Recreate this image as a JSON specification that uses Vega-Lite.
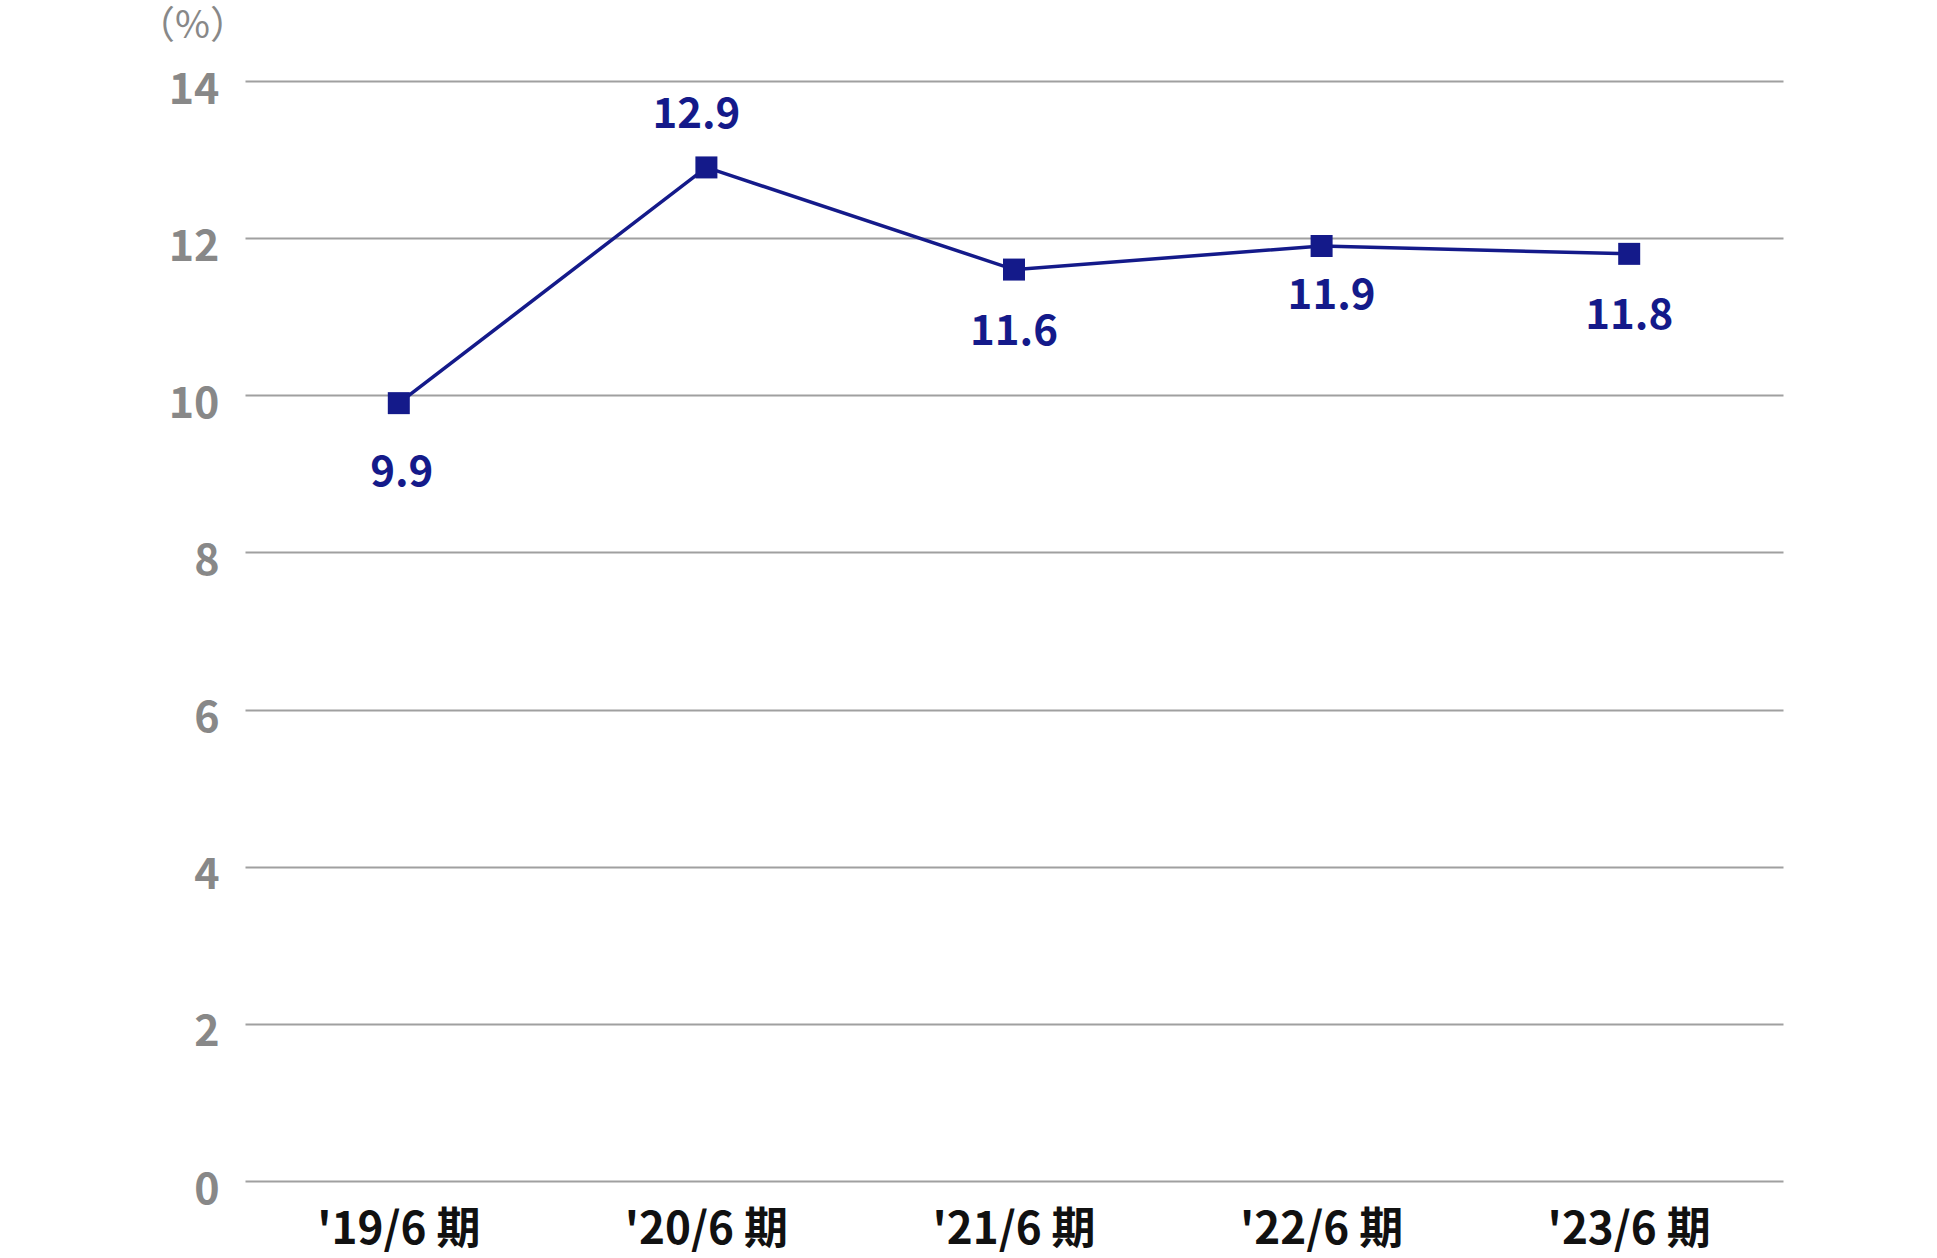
{
  "$schema": "https://vega.github.io/schema/vega-lite/v6.json",
  "width": 1538,
  "height": 1100,
  "autosize": {"type": "none"},
  "padding": {"left": 245, "top": 81, "right": 154, "bottom": 77},
  "background": "white",
  "config": {"view": {"stroke": null}, "font": "Noto Sans CJK JP"},
  "data": {
    "values": [
      {"period": "'19/6 期", "value": 9.9},
      {"period": "'20/6 期", "value": 12.9},
      {"period": "'21/6 期", "value": 11.6},
      {"period": "'22/6 期", "value": 11.9},
      {"period": "'23/6 期", "value": 11.8}
    ]
  },
  "encoding": {
    "x": {
      "field": "period", "type": "ordinal", "sort": null,
      "scale": {"type": "band", "paddingInner": 0, "paddingOuter": 0},
      "axis": {
        "title": null, "labelAngle": 0, "domain": false, "ticks": false,
        "labelFont": "Noto Sans CJK JP", "labelFontSize": 44, "labelFontWeight": "bold",
        "labelColor": "#111111", "labelPadding": 27
      }
    },
    "y": {
      "field": "value", "type": "quantitative",
      "scale": {"domain": [0, 14], "nice": false, "zero": true},
      "axis": {
        "values": [0, 2, 4, 6, 8, 10, 12, 14],
        "title": "（%）", "titleAngle": 0, "titleX": -53, "titleY": -55,
        "titleAlign": "center", "titleBaseline": "middle",
        "titleFont": "Noto Sans CJK JP", "titleFontSize": 38, "titleFontWeight": "normal", "titleColor": "#888888",
        "domain": false, "ticks": false, "grid": true, "gridColor": "#a0a0a0", "gridWidth": 2,
        "labelFont": "Noto Sans CJK JP", "labelFontSize": 43, "labelFontWeight": "bold",
        "labelColor": "#888888", "labelPadding": 26, "labelOffset": 9
      }
    }
  },
  "layer": [
    {"mark": {"type": "line", "color": "#141a8a", "strokeWidth": 3.5}},
    {"mark": {"type": "point", "shape": "square", "filled": true, "size": 484, "color": "#141a8a", "opacity": 1}},
    {
      "transform": [{"filter": "datum.value == 12.9"}],
      "mark": {"type": "text", "color": "#141a8a", "fontSize": 42, "fontWeight": "bold", "font": "Noto Sans CJK JP", "dy": -52, "dx": -10, "baseline": "middle"},
      "encoding": {"text": {"field": "value", "type": "quantitative", "format": ".1f"}}
    },
    {
      "transform": [{"filter": "datum.value == 9.9"}],
      "mark": {"type": "text", "color": "#141a8a", "fontSize": 42, "fontWeight": "bold", "font": "Noto Sans CJK JP", "dy": 70, "dx": 3, "baseline": "middle"},
      "encoding": {"text": {"field": "value", "type": "quantitative", "format": ".1f"}}
    },
    {
      "transform": [{"filter": "datum.value == 11.6 || datum.value == 11.8"}],
      "mark": {"type": "text", "color": "#141a8a", "fontSize": 42, "fontWeight": "bold", "font": "Noto Sans CJK JP", "dy": 62, "baseline": "middle"},
      "encoding": {"text": {"field": "value", "type": "quantitative", "format": ".1f"}}
    },
    {
      "transform": [{"filter": "datum.value == 11.9"}],
      "mark": {"type": "text", "color": "#141a8a", "fontSize": 42, "fontWeight": "bold", "font": "Noto Sans CJK JP", "dy": 50, "dx": 10, "baseline": "middle"},
      "encoding": {"text": {"field": "value", "type": "quantitative", "format": ".1f"}}
    }
  ]
}
